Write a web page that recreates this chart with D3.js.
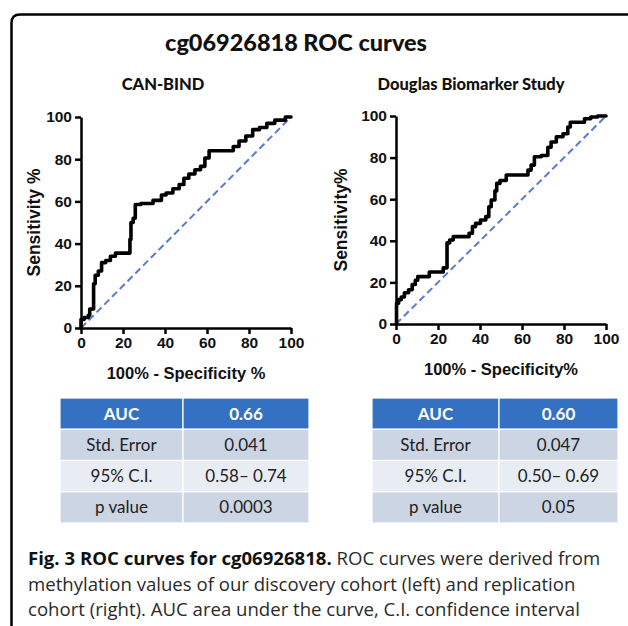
<!DOCTYPE html>
<html><head><meta charset="utf-8">
<script src="https://cdn.jsdelivr.net/npm/d3@7"></script>
<style>html,body{margin:0;padding:0;background:#fff;}svg{display:block;}</style>
</head><body>
<script>
// ---- data ----
const mainTitle = "cg06926818 ROC curves";
const panelTitles = ["CAN-BIND", "Douglas Biomarker Study"];
const yTitles = ["Sensitivity %", "Sensitivity%"];
const xTitles = ["100% - Specificity %", "100% - Specificity%"];
const tickValues = [0, 20, 40, 60, 80, 100];

const leftFPR = [0,0,3,4,4.3,6,6,7.5,9,10.6,13,15,17.8,23,23.6,24,25.7,26,31,37.6,39,42,45.5,48,50,52.7,55.8,58,60,62,71,74,76.5,80.5,83,87,90,94.6,100];
const leftTPR = [0,4,5,6,9,9,21,25,27,31,32,34,35.5,35.5,42,50,52,58.5,59,60.5,63,64,66,68,71,73,75,76.6,80.6,84,84,86,88.6,91,94,95,97,98.5,100];

const rightFPR = [0,0.5,2,3,5,7,8.4,10,10.7,14.7,17,21,24,24.6,26.5,28,33.6,36,36.8,39,41.5,44,44.4,46.3,47.9,48,51,54,62,63.7,65,66.8,71.6,73,74.7,78,81,82.6,83.4,89,90.5,95,97,100];
const rightTPR = [0,10,11.7,13,15,16.5,19,21,22.8,22.8,25,25,27,39,40.4,42,42,43.6,46.8,48.4,50,51.6,56.4,59.6,64,67.6,69,71.6,71.6,74,76.4,80.4,81,85,87.5,90,91.5,94.7,97,97,98.7,99.5,100,100];

const statLabels = ["AUC", "Std. Error", "95% C.I.", "p value"];
const leftStats = ["0.66", "0.041", "0.58\u2013 0.74", "0.0003"];
const rightStats = ["0.60", "0.047", "0.50\u2013 0.69", "0.05"];

const captionBold = "Fig. 3 ROC curves for cg06926818.";
const captionLines = [
  " ROC curves were derived from",
  "methylation values of our discovery cohort (left) and replication",
  "cohort (right). AUC area under the curve, C.I. confidence interval"
];

// ---- layout ----
const W = 628, H = 626;
const svg = d3.select("body").append("svg").attr("width", W).attr("height", H);

// frame
svg.append("path")
  .attr("d", "M11.5,626 V23 Q11.5,14.5 20,14.5 H628")
  .attr("fill", "none").attr("stroke", "#000").attr("stroke-width", 2.5);

const gothic = "Lato, 'Noto Sans', sans-serif";
const arial = "'Liberation Sans', Arial, sans-serif";

function fitWidth(sel, target) {
  const fs = +sel.attr("font-size");
  const w = sel.node().getComputedTextLength();
  return fs * target / w;
}

const title = svg.append("text").attr("x", 296).attr("y", 51).attr("text-anchor", "middle")
  .attr("font-family", gothic).attr("font-weight", 900).attr("font-size", 21)
  .attr("fill", "#111").text(mainTitle);
title.attr("font-size", fitWidth(title, 262));

const panels = [
  {fpr: leftFPR, tpr: leftTPR, x0: 81, x1: 291, y0: 328, y1: 117, titleX: 163, ytX: 40, stats: leftStats, tx0: 60, tdiv: 183, tx1: 309},
  {fpr: rightFPR, tpr: rightTPR, x0: 396, x1: 606, y0: 324, y1: 116, titleX: 471, ytX: 347, stats: rightStats, tx0: 372, tdiv: 499, tx1: 618}
];

panels.forEach((p, i) => {
  const x = d3.scaleLinear().domain([0, 100]).range([p.x0, p.x1]);
  const y = d3.scaleLinear().domain([0, 100]).range([p.y0, p.y1]);
  const g = svg.append("g");

  g.append("text").attr("x", p.titleX).attr("y", 90).attr("text-anchor", "middle")
    .attr("font-family", gothic).attr("font-weight", 900).attr("font-size", 16.5)
    .attr("fill", "#111").text(panelTitles[i]);

  // diagonal
  g.append("line").attr("x1", x(0)).attr("y1", y(0)).attr("x2", x(100)).attr("y2", y(100))
    .attr("stroke", "#5b78d6").attr("stroke-width", 2).attr("stroke-dasharray", "7,4");

  // curve
  const pts = p.fpr.map((v, k) => [v, p.tpr[k]]);
  g.append("path").datum(pts)
    .attr("d", d3.line().x(d => x(d[0])).y(d => y(d[1])).curve(d3.curveStep))
    .attr("fill", "none").attr("stroke", "#000").attr("stroke-width", 3.6)
    .attr("stroke-linejoin", "round").attr("stroke-linecap", "round");

  // axes
  const ax = g.append("g").attr("transform", `translate(0,${p.y0})`)
    .call(d3.axisBottom(x).tickValues(tickValues).tickSize(6).tickPadding(3).tickSizeOuter(0));
  const ay = g.append("g").attr("transform", `translate(${p.x0},0)`)
    .call(d3.axisLeft(y).tickValues(tickValues).tickSize(6).tickPadding(3).tickSizeOuter(0));
  [ax, ay].forEach(a => {
    a.select(".domain").attr("stroke", "#000").attr("stroke-width", 2.5);
    a.selectAll(".tick line").attr("stroke", "#000").attr("stroke-width", 2.5);
    a.selectAll(".tick text").attr("font-family", arial).attr("font-weight", 700)
      .attr("font-size", 15.5).attr("fill", "#111");
  });

  g.append("text").attr("x", (p.x0 + p.x1) / 2).attr("y", p.y0 + 51).attr("text-anchor", "middle")
    .attr("font-family", arial).attr("font-weight", 700).attr("font-size", 16.5)
    .attr("fill", "#111").text(xTitles[i]);
  g.append("text").attr("transform", `translate(${p.ytX},${(p.y0 + p.y1) / 2}) rotate(-90)`)
    .attr("text-anchor", "middle")
    .attr("font-family", arial).attr("font-weight", 700).attr("font-size", 17.5)
    .attr("fill", "#111").text(yTitles[i]);

  // table
  const rowY = d3.scaleBand().domain(statLabels).range([398, 523]).paddingInner(0);
  const rowFill = ["#3571c3", "#ccd5e4", "#e8ecf3", "#ccd5e4"];
  const tg = g.append("g");
  statLabels.forEach((lab, r) => {
    const yy = rowY(lab), hh = rowY.bandwidth();
    [[p.tx0, p.tdiv, lab], [p.tdiv, p.tx1, p.stats[r]]].forEach(([a, b, txt]) => {
      tg.append("rect").attr("x", a).attr("y", yy).attr("width", b - a).attr("height", hh)
        .attr("fill", rowFill[r]).attr("stroke", "#fff").attr("stroke-width", 1.2);
      tg.append("text").attr("x", (a + b) / 2).attr("y", yy + hh / 2 + 6)
        .attr("text-anchor", "middle").attr("font-family", gothic)
        .attr("font-weight", r === 0 ? 700 : 400).attr("font-size", 17)
        .attr("fill", r === 0 ? "#fff" : "#222").text(txt);
    });
  });
});

// caption
const cap = svg.append("g").attr("font-family", "'Open Sans', 'Noto Sans', sans-serif").attr("fill", "#2a2a2a");
const l2 = cap.append("text").attr("x", 28).attr("y", 590.5).attr("font-size", 15.5).text(captionLines[1]);
const capSize = fitWidth(l2, 548);
l2.attr("font-size", capSize);
const l1 = cap.append("text").attr("x", 28).attr("y", 565).attr("font-size", capSize);
l1.append("tspan").attr("font-weight", 700).attr("fill", "#111").text(captionBold);
l1.append("tspan").text(captionLines[0]);
cap.append("text").attr("x", 28).attr("y", 616).attr("font-size", capSize).text(captionLines[2]);
</script>
</body></html>
